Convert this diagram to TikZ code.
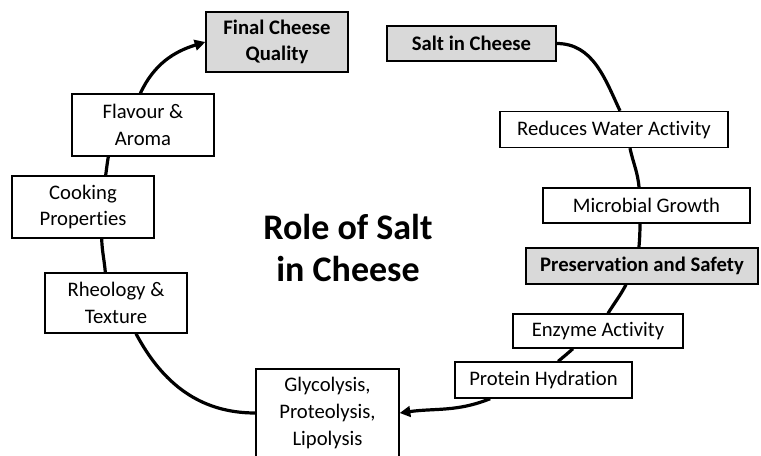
\documentclass[tikz,border=0pt]{standalone}
\usepackage{fontspec}
\setmainfont{Carlito}[Ligatures=CommonOff]
\usetikzlibrary{arrows.meta}
\newlength{\du}
\setlength{\du}{0.75pt}
\definecolor{boxgray}{rgb}{0.850000, 0.850000, 0.850000}
\tikzset{
  stagebox/.style={draw=black, line width=1pt, fill=white, inner sep=0pt, align=center,
    font=\fontsize{15.5}{20}\selectfont},
  keybox/.style={stagebox, fill=boxgray, font=\fontsize{15.5}{20}\selectfont\bfseries},
  flow/.style={line width=2.4pt, draw=black},
  flowend/.style={flow, -{Triangle[length=8pt,width=8pt]}}
}
\begin{document}
\begin{tikzpicture}[x=\du,y=\du]
\useasboundingbox (0,0) rectangle (761,455);
% boxes
\node[keybox, minimum width=106.5pt, minimum height=45pt] (final) at (277,413) {Final Cheese\\Quality};
\node[keybox, minimum width=126.75pt, minimum height=26.25pt] (salt) at (471.5,411.5) {Salt in Cheese};
\node[stagebox, minimum width=171pt, minimum height=27pt] (water) at (614,325.5) {Reduces Water Activity};
\node[stagebox, minimum width=155.25pt, minimum height=26.25pt] (microbial) at (646.5,249.5) {Microbial Growth};
\node[keybox, minimum width=174pt, minimum height=27pt] (preserve) at (642,189) {Preservation and Safety};
\node[stagebox, minimum width=127.5pt, minimum height=25.5pt] (enzyme) at (598,124) {Enzyme Activity};
\node[stagebox, minimum width=132.75pt, minimum height=27pt] (protein) at (543.5,75) {Protein Hydration};
\node[stagebox, minimum width=107.25pt, minimum height=66pt] (glyco) at (327.5,42) {Glycolysis,\\Proteolysis,\\Lipolysis};
\node[stagebox, minimum width=106.5pt, minimum height=45pt] (rheology) at (116,152) {Rheology \&\\Texture};
\node[stagebox, minimum width=106.5pt, minimum height=46.5pt] (cooking) at (83,248) {Cooking\\Properties};
\node[stagebox, minimum width=106.5pt, minimum height=46.5pt] (flavour) at (143,330) {Flavour \&\\Aroma};
% title
\node[align=center, font=\fontsize{27}{32}\selectfont\bfseries] (title) at (348,207) {Role of Salt\\in Cheese};
% right arc
\draw[flow] (salt.east) to[out=0, in=115] ([xshift=4.5pt]water.north);
\draw[flow] ([xshift=12pt]water.south) to[out=-78, in=95] ([xshift=-5.6pt]microbial.north);
\draw[flow] ([xshift=-4.9pt]microbial.south) to[out=-90, in=85] ([xshift=-2.3pt]preserve.north);
\draw[flow] ([xshift=-12pt]preserve.south) to[out=-118, in=58] ([xshift=7.5pt]enzyme.north);
\draw[flow] ([xshift=-18.8pt]enzyme.south) to[out=-138, in=40] ([xshift=11pt]protein.north);
\draw[flowend] ([xshift=-40pt]protein.south) to[out=-158, in=8] (glyco.east);
% left arc
\draw[flow] (glyco.west) to[out=180, in=-62] ([xshift=15pt]rheology.south);
\draw[flow] ([xshift=-8pt]rheology.north) to[out=95, in=-88] ([xshift=14pt]cooking.north |- cooking.south);
\draw[flow] ([xshift=17pt]cooking.north) to[out=82, in=-100] ([xshift=-26pt]flavour.south);
\draw[flowend] ([xshift=-2pt]flavour.north) to[out=65, in=197] (final.west);
\end{tikzpicture}
\end{document}
